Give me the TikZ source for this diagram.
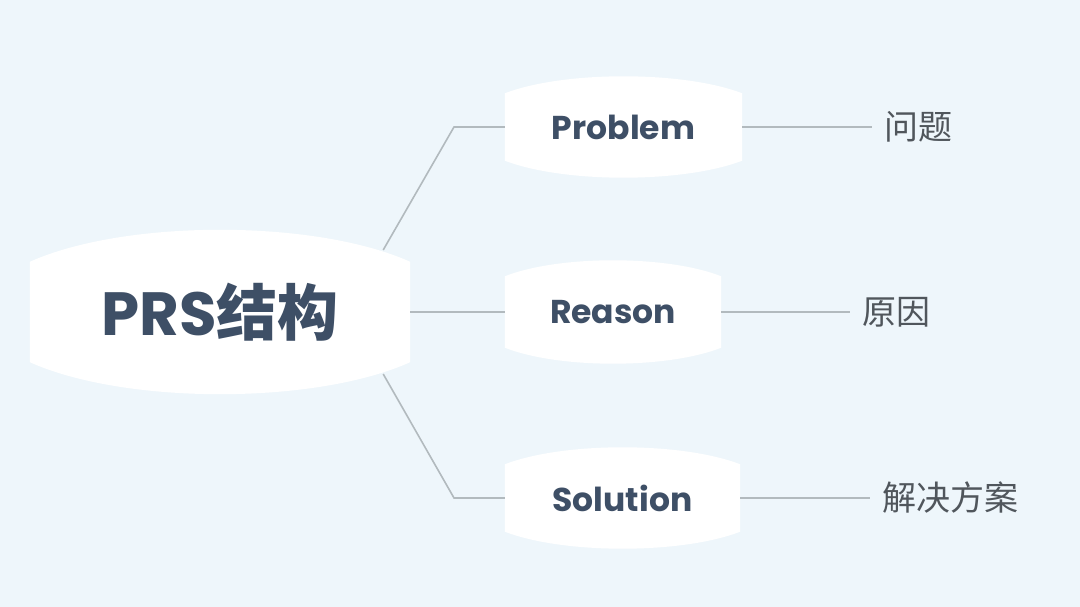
\documentclass[tikz,border=0pt]{standalone}
\usepackage{fontspec}
\setmainfont{Poppins}
\newfontfamily\cjk{Noto Sans CJK SC}
\newfontfamily\cjkb{Noto Sans CJK SC Bold}
\usetikzlibrary{calc,backgrounds}
\definecolor{bgc}{HTML}{EEF6FB}
\definecolor{ink}{HTML}{3E4F66}
\definecolor{lbl}{HTML}{50565C}
\definecolor{linec}{HTML}{B2BABE}
\tikzset{
  bnode/.style={inner sep=0pt, text=ink, font=\bfseries\fontsize{33}{38}\selectfont},
  conn/.style={draw=linec, line width=1.6pt},
  lblnode/.style={anchor=west, inner xsep=12pt, inner ysep=0pt, text=lbl, font=\cjk\fontsize{34}{38}\selectfont}
}
\newcommand{\blobfill}[2]{%
  \fill[white] ($(#1.north west)+(0,-#2)$)
    .. controls ($(#1.north west)!0.25!(#1.north east)+(0,#2/3)$) and ($(#1.north west)!0.75!(#1.north east)+(0,#2/3)$) ..
    ($(#1.north east)+(0,-#2)$) -- ($(#1.south east)+(0,#2)$)
    .. controls ($(#1.south west)!0.75!(#1.south east)+(0,-#2/3)$) and ($(#1.south west)!0.25!(#1.south east)+(0,-#2/3)$) ..
    ($(#1.south west)+(0,#2)$) -- cycle;}
\begin{document}
\begin{tikzpicture}[x=1pt,y=1pt]
\useasboundingbox (0,0) rectangle (1080,607);
% nodes
\node[bnode, minimum width=380pt, minimum height=164pt] (c) at (220,295)
  {\fontsize{61}{66}\selectfont PRS\cjkb 结构};
\node[bnode, minimum width=237pt, minimum height=101pt] (p) at (623.5,480) {Problem};
\node[bnode, minimum width=216pt, minimum height=103pt] (r) at (613,295) {Reason};
\node[bnode, minimum width=235pt, minimum height=101pt] (s) at (622.5,109) {Solution};
\node[lblnode] (lp) at (872,480) {问题};
\node[lblnode] (lr) at (850,295) {原因};
\node[lblnode] (ls) at (870,109) {解决方案};
\coordinate (j1) at (454,480);
\coordinate (j3) at (454,109);
\begin{pgfonlayer}{background}
  \fill[bgc] (0,0) rectangle (1080,607);
  \blobfill{c}{32pt}
  \blobfill{p}{17pt}
  \blobfill{r}{16pt}
  \blobfill{s}{17pt}
\end{pgfonlayer}
% connectors
\draw[conn] ($(c.east)+(-27pt,62pt)$) -- (j1) -- (p.west);
\draw[conn] (c.east) -- (r.west);
\draw[conn] ($(c.east)+(-27pt,-62pt)$) -- (j3) -- (s.west);
\draw[conn] (p.east) -- (lp.west);
\draw[conn] (r.east) -- (lr.west);
\draw[conn] (s.east) -- (ls.west);
\end{tikzpicture}
\end{document}
